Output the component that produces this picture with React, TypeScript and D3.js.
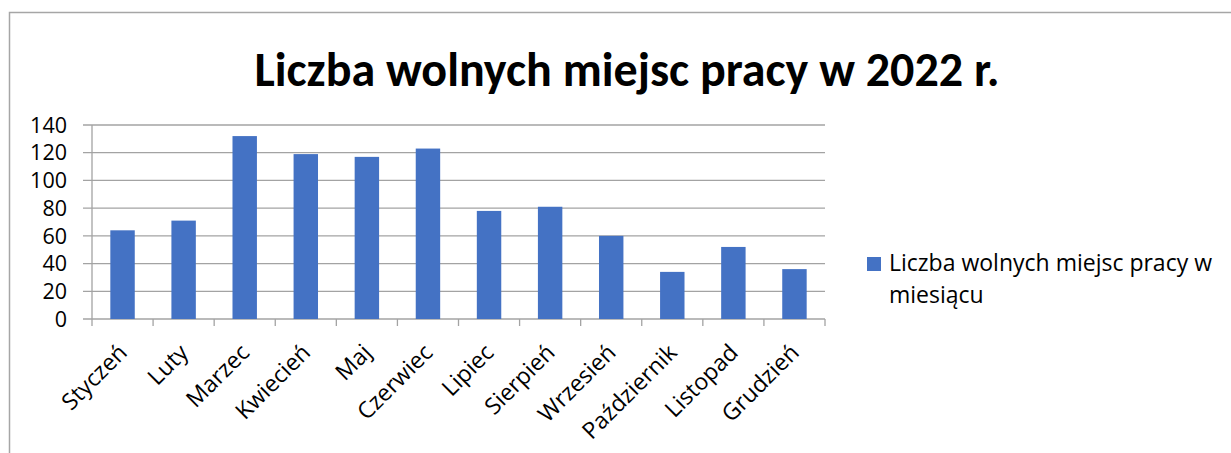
import React from "react";
import * as d3 from "d3";

// dane
const months = [
  "Styczeń", "Luty", "Marzec", "Kwiecień", "Maj", "Czerwiec",
  "Lipiec", "Sierpień", "Wrzesień", "Październik", "Listopad", "Grudzień",
];
const vacancies = [64, 71, 132, 119, 117, 123, 78, 81, 60, 34, 52, 36];
const yTicks = [0, 20, 40, 60, 80, 100, 120, 140];
const title = "Liczba wolnych miejsc pracy w 2022 r.";
const legendLines = ["Liczba wolnych miejsc pracy w", "miesiącu"];

const W = 1231;
const H = 453;
const titleFont = "Carlito, Calibri, sans-serif";
const font = "'Open Sans', 'Segoe UI', sans-serif";

const App = () => {
  const margin = { left: 92, right: 406, top: 125, bottom: 134 };
  const innerW = W - margin.left - margin.right;
  const innerH = H - margin.top - margin.bottom;

  const x = d3.scaleBand<string>().domain(months).range([0, innerW]).paddingInner(0.6).paddingOuter(0.3);
  const band = d3.scaleBand<string>().domain(months).range([0, innerW]);
  const y = d3.scaleLinear().domain([0, 140]).range([innerH, 0]);

  const grid = "#a3a3a3";

  return (
    <svg
      width={W}
      height={H}
      style={{ position: "fixed", left: 0, top: 0, background: "#fff" }}
      fontFamily={font}
    >
      {/* ramka wykresu */}
      <path d={`M9.5,${H} V12.5 H${W}`} fill="none" stroke="#a6a6a6" strokeWidth={1.5} />

      <text x={627} y={86} textAnchor="middle" fontSize={48} fontWeight="bold" fill="#000" fontFamily={titleFont}>
        {title}
      </text>

      <g transform={`translate(${margin.left},${margin.top})`}>
        {yTicks.map(t => (
          <g key={t} transform={`translate(0,${y(t)})`}>
            <line x1={-9} x2={innerW} stroke={grid} strokeWidth={1.3} />
            <text x={-25} dy="0.36em" textAnchor="end" fontSize={21.5} fill="#000">
              {t}
            </text>
          </g>
        ))}
        <line x1={0} x2={0} y1={0} y2={innerH + 7} stroke={grid} strokeWidth={1.3} />

        {months.map((m, i) => (
          <rect
            key={m}
            x={x(m)}
            y={y(vacancies[i])}
            width={x.bandwidth()}
            height={innerH - y(vacancies[i])}
            fill="#4472C4"
          />
        ))}

        {months.map(m => (
          <line
            key={m}
            x1={(band(m) ?? 0) + band.bandwidth()}
            x2={(band(m) ?? 0) + band.bandwidth()}
            y1={innerH}
            y2={innerH + 7}
            stroke={grid}
            strokeWidth={1.3}
          />
        ))}

        {months.map(m => {
          const cx = (band(m) ?? 0) + band.bandwidth() / 2;
          return (
            <text
              key={m}
              transform={`translate(${cx + 6},${innerH + 35}) rotate(-45)`}
              textAnchor="end"
              fontSize={23}
              fill="#000"
            >
              {m}
            </text>
          );
        })}
      </g>

      <rect x={867} y={257} width={14} height={14} fill="#4472C4" />
      {legendLines.map((l, i) => (
        <text key={i} x={889} y={271 + i * 32} fontSize={23} fill="#000">
          {l}
        </text>
      ))}
    </svg>
  );
};

export default App;
